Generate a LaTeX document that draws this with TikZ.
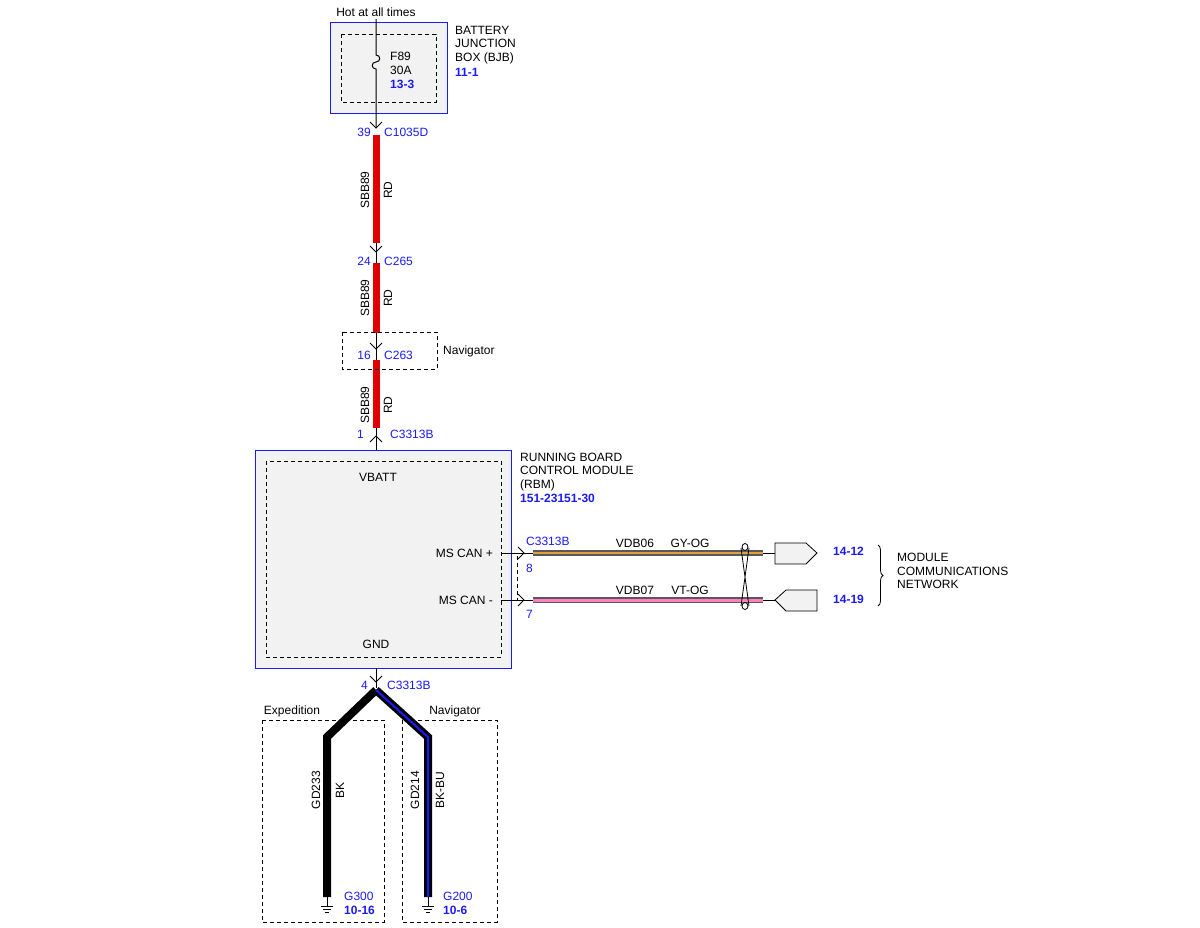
\documentclass[tikz,border=0pt]{standalone}
\usepackage{fontspec}
\setmainfont{Liberation Sans}
\usetikzlibrary{decorations.pathreplacing}
\definecolor{lb}{HTML}{1A1AFF}
\definecolor{bx}{HTML}{F2F2F2}
\definecolor{rd}{HTML}{E00000}
\definecolor{og}{HTML}{E0A040}
\definecolor{pk}{HTML}{FF80C0}
\begin{document}
\begin{tikzpicture}[x=1pt,y=-1pt,
  t/.style={font=\fontsize{12}{13.5}\selectfont,inner sep=0pt},
  bl/.style={t,text=lb},
  bb/.style={t,text=lb,font=\fontsize{12}{13.5}\selectfont\bfseries},
  dsh/.style={dash pattern=on 4pt off 3pt,line width=0.7pt},
  blue box/.style={draw=lb,fill=bx,line width=0.8pt},
  chev/.style={line width=1pt}]
\useasboundingbox (0,0) rectangle (1200,927);
% BJB
\draw[blue box] (330,22) rectangle (447,113);
\draw[dsh] (341,34) rectangle (436,102);
\node[t] (hot) at (376,12) {Hot at all times};
\draw[line width=1pt] (376,19) -- (376,55) .. controls (381,55) and (381,62) .. (376,62) .. controls (371,62) and (371,69) .. (376,69) -- (376,128);
\node[t,anchor=west] at (390,56) {F89};
\node[t,anchor=west] at (390,70) {30A};
\node[bb,anchor=west] at (390,84) {13-3};
\node[t,anchor=west,align=left] at (455,45) {BATTERY\\JUNCTION\\BOX (BJB)};
\node[bb,anchor=west] at (455,72) {11-1};
% chevrons down
\foreach \y in {128,252,349} \draw[chev] (370,\y-6) -- (376,\y) -- (382,\y-6);
\node[bl,anchor=east] at (371,132) {39};
\node[bl,anchor=west] at (384,132) {C1035D};
\node[bl,anchor=east] at (371,261) {24};
\node[bl,anchor=west] at (384,261) {C265};
\node[bl,anchor=east] at (371,355) {16};
\node[bl,anchor=west] at (384,355) {C263};
\draw[line width=1pt] (376,243)--(376,263) (376,333)--(376,360);
\draw[rd,line width=7pt] (376,135)--(376,243) (376,263)--(376,333) (376,360)--(376,428);
\foreach \y in {190,298,405}{
 \node[t,rotate=90] at (365,\y) {SBB89};
 \node[t,rotate=90] at (388,\y) {RD};}
\draw[dsh] (342,332) rectangle (437,369);
\node[t,anchor=west] at (443,351) {Navigator};
% C3313B pin 1
\draw[line width=1pt] (376,428)--(376,450);
\draw[chev] (370,442) -- (376,436) -- (382,442);
\node[bl,anchor=east] at (364,434) {1};
\node[bl,anchor=west] at (390,434) {C3313B};
% RBM
\draw[blue box] (255,450) rectangle (511,668);
\draw[dsh] (266,461) rectangle (501,657);
\node[t] at (378,477) {VBATT};
\node[t] at (376,644) {GND};
\node[t,anchor=east] at (493,553) {MS CAN +};
\node[t,anchor=east] at (493,600) {MS CAN -};
\node[t,anchor=west,align=left] at (520,472) {RUNNING BOARD\\CONTROL MODULE\\(RBM)};
\node[bb,anchor=west] at (520,498) {151-23151-30};
% CAN wires
\foreach \y in {553,600}{
 \draw[line width=1pt] (501,\y)--(533,\y);
 \draw[chev] (518,\y-6)--(524,\y)--(518,\y+6);}
\draw[dsh,line width=0.6pt] (517,556)--(517,600);
\node[bl,anchor=west] at (526,541) {C3313B};
\node[bl,anchor=west] at (526,568) {8};
\node[bl,anchor=west] at (526,614) {7};
\draw[gray!70!black,line width=6pt] (533,553)--(763,553);
\draw[og,line width=2.5pt] (533,553)--(763,553);
\draw[gray!70!black,line width=6pt] (533,600)--(763,600);
\draw[pk,line width=3pt] (533,600)--(763,600);
\node[t] at (635,543) {VDB06};
\node[t] at (690,543) {GY-OG};
\node[t] at (635,590) {VDB07};
\node[t] at (690,590) {VT-OG};
\draw[line width=0.8pt] (741,548)--(749,606) (749,548)--(741,606);
\draw[line width=0.8pt,fill=white] (745,547) ellipse[x radius=3,y radius=3.5] (745,606) ellipse[x radius=3,y radius=3.5];
\draw[line width=0.8pt] (763,553)--(775,553) (763,600)--(775,600);
\draw[fill=bx,line width=0.8pt] (775,543)--(806,543)--(817,553)--(806,564)--(775,564)--cycle;
\draw[fill=bx,line width=0.8pt] (775,600)--(786,590)--(817,590)--(817,611)--(786,611)--cycle;
\node[bb,anchor=west] at (833,551) {14-12};
\node[bb,anchor=west] at (833,599) {14-19};
\draw[decorate,decoration={brace,amplitude=5pt},line width=0.8pt] (878,545)--(878,606);
\node[t,anchor=west,align=left] at (897,571) {MODULE\\COMMUNICATIONS\\NETWORK};
% GND
\draw[line width=1pt] (376,668)--(376,688);
\draw[chev] (370,676)--(376,682)--(382,676);
\node[bl,anchor=east] at (368,685) {4};
\node[bl,anchor=west] at (387,685) {C3313B};
\draw[line width=8pt,line join=miter] (376,690)--(327,737)--(327,897);
\draw[line width=8pt,line join=miter] (376,690)--(428,737)--(428,897);
\draw[lb,line width=2pt,line join=miter] (376,690)--(428,737)--(428,897);
\draw[dsh] (262,720) rectangle (384,922);
\draw[dsh] (402,720) rectangle (497,922);
\node[t] at (292,711) {Expedition};
\node[t] at (455,711) {Navigator};
\node[t,rotate=90] at (316,790) {GD233};
\node[t,rotate=90] at (340,790) {BK};
\node[t,rotate=90] at (415,790) {GD214};
\node[t,rotate=90] at (440,790) {BK-BU};
\foreach \x in {327,428}{
 \draw[line width=0.8pt] (\x,897)--(\x,906) (\x-6,906)--(\x+6,906) (\x-4,909)--(\x+4,909) (\x-2,912)--(\x+2,912);}
\node[bl,anchor=west] at (344,896) {G300};
\node[bb,anchor=west] at (344,910) {10-16};
\node[bl,anchor=west] at (443,896) {G200};
\node[bb,anchor=west] at (443,910) {10-6};
\end{tikzpicture}
\end{document}
